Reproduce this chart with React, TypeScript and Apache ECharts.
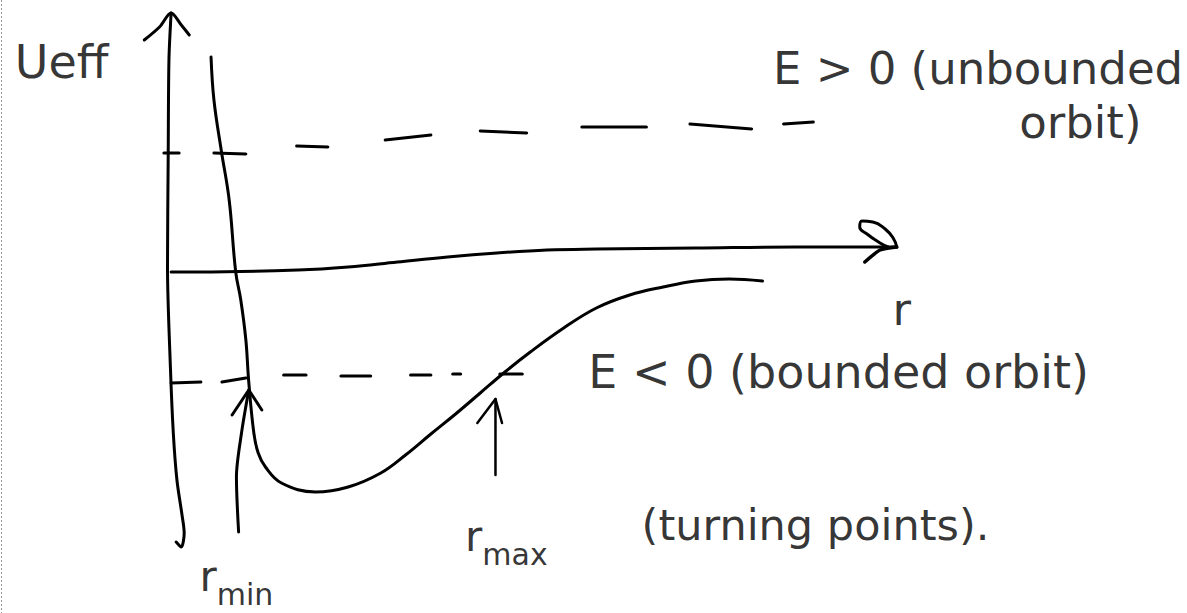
import React, { useEffect, useRef } from "react";
import * as echarts from "echarts";

// Effective potential curve U_eff(r)
const potentialR = [0.55, 0.59, 0.69, 0.8, 0.89, 0.96, 1.03, 1.07, 1.14, 1.2, 1.3, 1.52, 1.99, 2.44, 2.89, 3.23, 3.58, 3.92, 4.26, 4.6, 4.95, 5.41, 5.86, 6.32, 6.78, 7.23, 7.69, 8.15];
const potentialU = [4.1, 3.24, 2.24, 1.24, -0.2, -0.76, -1.56, -2.4, -3.42, -3.82, -4.1, -4.42, -4.6, -4.5, -4.22, -3.86, -3.44, -3.04, -2.62, -2.2, -1.8, -1.32, -0.92, -0.66, -0.5, -0.38, -0.34, -0.38];

// Hand-drawn vertical (U) axis and its arrowhead
const uAxisR = [0, -0.03, -0.04, -0.05, -0.01, 0.03, 0.08, 0.15, 0.18, 0.14, 0.07];
const uAxisU = [4.98, 4.04, 2.18, -0.1, -2.1, -3.42, -4.36, -5.06, -5.42, -5.7, -5.6];
const uArrowR = [-0.37, -0.16, 0, 0.14, 0.25];
const uArrowU = [4.44, 4.7, 4.98, 4.74, 4.54];

// Hand-drawn horizontal (r) axis and its arrowhead
const rAxisR = [0, 0.38, 1.75, 2.44, 3.12, 3.81, 4.49, 5.18, 5.86, 7.23, 8.6, 10];
const rAxisU = [-0.2, -0.2, -0.16, -0.1, 0, 0.1, 0.18, 0.24, 0.26, 0.28, 0.3, 0.3];
const rArrowWingR = [9.56, 9.77, 10];
const rArrowWingU = [0, 0.24, 0.3];
const rArrowLoopR = [10, 9.95, 9.84, 9.67, 9.52, 9.49, 9.59, 9.77, 9.88];
const rArrowLoopU = [0.3, 0.48, 0.66, 0.8, 0.82, 0.7, 0.56, 0.38, 0.3];

// E > 0 dashed level (dash start/end)
const unboundDashR = [[-0.1, 0.11], [0.59, 1.03], [1.73, 2.16], [2.95, 3.58], [4.26, 4.9], [5.66, 6.55], [7.15, 8.0], [8.44, 8.85]];
const unboundDashU = [[2.18, 2.18], [2.18, 2.16], [2.32, 2.3], [2.44, 2.54], [2.62, 2.58], [2.7, 2.7], [2.76, 2.66], [2.76, 2.8]];

// E < 0 dashed level
const boundDashR = [[0, 0.41], [0.7, 1.03], [1.55, 1.86], [2.34, 2.75], [3.3, 3.58], [3.88, 3.99], [4.53, 4.84]];
const boundDashU = [[-2.42, -2.4], [-2.4, -2.32], [-2.26, -2.26], [-2.28, -2.28], [-2.26, -2.26], [-2.24, -2.24], [-2.24, -2.24]];

// Turning-point arrows
const rMinShaftR = [0.93, 0.9, 0.97, 1.07];
const rMinShaftU = [-5.4, -4.3, -3.42, -2.56];
const rMinHeadR = [0.84, 1.07, 1.25];
const rMinHeadU = [-3.06, -2.56, -2.96];
const rMaxShaftR = [4.47, 4.47];
const rMaxShaftU = [-4.26, -2.74];
const rMaxHeadR = [4.22, 4.47, 4.56];
const rMaxHeadU = [-3.22, -2.74, -3.22];

// Annotations
const labelTexts = ["Ueff", "E > 0 (unbounded", "orbit)", "r", "E < 0 (bounded orbit)", "rmax", "(turning points).", "rmin"];
const labelR = [-1.51, 11.12, 12.53, 10.07, 9.2, 4.62, 8.88, 0.9];
const labelU = [4.0, 3.88, 2.8, -0.94, -2.2, -5.6, -5.26, -6.4];
const labelSizes = [46, 45, 45, 45, 46, 0, 43, 0];

const INK = "#000";
const FONT = "DejaVu Sans";

function pts(rs: number[], us: number[]) {
  return rs.map((r, i) => [r, us[i]]);
}

function stroke(name: string, data: number[][], smooth: number | boolean, width = 3) {
  return {
    type: "line",
    name,
    data,
    smooth,
    showSymbol: false,
    symbol: "none",
    silent: true,
    clip: false,
    lineStyle: { color: INK, width, cap: "round", join: "round" },
  };
}

function labelItem(text: string, r: number, u: number, size: number) {
  const sub = text === "rmin" || text === "rmax";
  if (sub) {
    return {
      value: [r, u],
      name: text,
      label: {
        formatter: "{a|r}{b|" + text.slice(1) + "}",
        rich: {
          a: { fontSize: 42, fontFamily: FONT, color: INK, verticalAlign: "top", lineHeight: 54 },
          b: { fontSize: 30, fontFamily: FONT, color: INK, verticalAlign: "bottom", lineHeight: 54 },
        },
      },
    };
  }
  return { value: [r, u], name: text, label: { fontSize: size } };
}

export default function App() {
  const ref = useRef<HTMLDivElement>(null);
  useEffect(() => {
    if (!ref.current) return;
    const chart = echarts.init(ref.current, null, { renderer: "svg" });
    const series: any[] = [];
    series.push(stroke("Ueff", pts(potentialR, potentialU), 0.4, 3));
    series.push(stroke("U axis", pts(uAxisR, uAxisU), 0.3, 3));
    series.push(stroke("U arrow", pts(uArrowR, uArrowU), 0.3, 3));
    series.push(stroke("r axis", pts(rAxisR, rAxisU), 0.4, 3));
    series.push(stroke("r arrow wing", pts(rArrowWingR, rArrowWingU), 0.2, 3.5));
    series.push(stroke("r arrow loop", pts(rArrowLoopR, rArrowLoopU), 0.5, 3));
    unboundDashR.forEach((rs, i) => series.push(stroke("E>0 dash " + i, pts(rs, unboundDashU[i]), false, 3)));
    boundDashR.forEach((rs, i) => series.push(stroke("E<0 dash " + i, pts(rs, boundDashU[i]), false, 3)));
    series.push(stroke("rmin shaft", pts(rMinShaftR, rMinShaftU), 0.3, 3));
    series.push(stroke("rmin head", pts(rMinHeadR, rMinHeadU), false, 3));
    series.push(stroke("rmax shaft", pts(rMaxShaftR, rMaxShaftU), false, 2.5));
    series.push(stroke("rmax head", pts(rMaxHeadR, rMaxHeadU), false, 2.5));
    series.push({
      type: "scatter",
      name: "labels",
      symbolSize: 0,
      silent: true,
      clip: false,
      itemStyle: { color: INK },
      data: labelTexts.map((t, i) => labelItem(t, labelR[i], labelU[i], labelSizes[i])),
      label: {
        show: true,
        position: "inside",
        formatter: "{b}",
        color: INK,
        fontFamily: FONT,
        fontSize: 45,
      },
    });

    chart.setOption({
      animation: false,
      backgroundColor: "#ffffff",
      grid: { left: 26, top: 12, width: 1168, height: 600 },
      xAxis: { type: "value", min: -2, max: 14, show: false },
      yAxis: { type: "value", min: -7, max: 5, show: false },
      graphic: [
        {
          type: "line",
          shape: { x1: 1.5, y1: 0, x2: 1.5, y2: 613 },
          style: { stroke: "#999", lineWidth: 1, lineDash: [2, 2] },
          silent: true,
        },
      ],
      series,
    });
    return () => chart.dispose();
  }, []);
  return (
    <div
      ref={ref}
      style={{ position: "absolute", left: 0, top: 0, width: 1187, height: 613, background: "#fff" }}
    />
  );
}
